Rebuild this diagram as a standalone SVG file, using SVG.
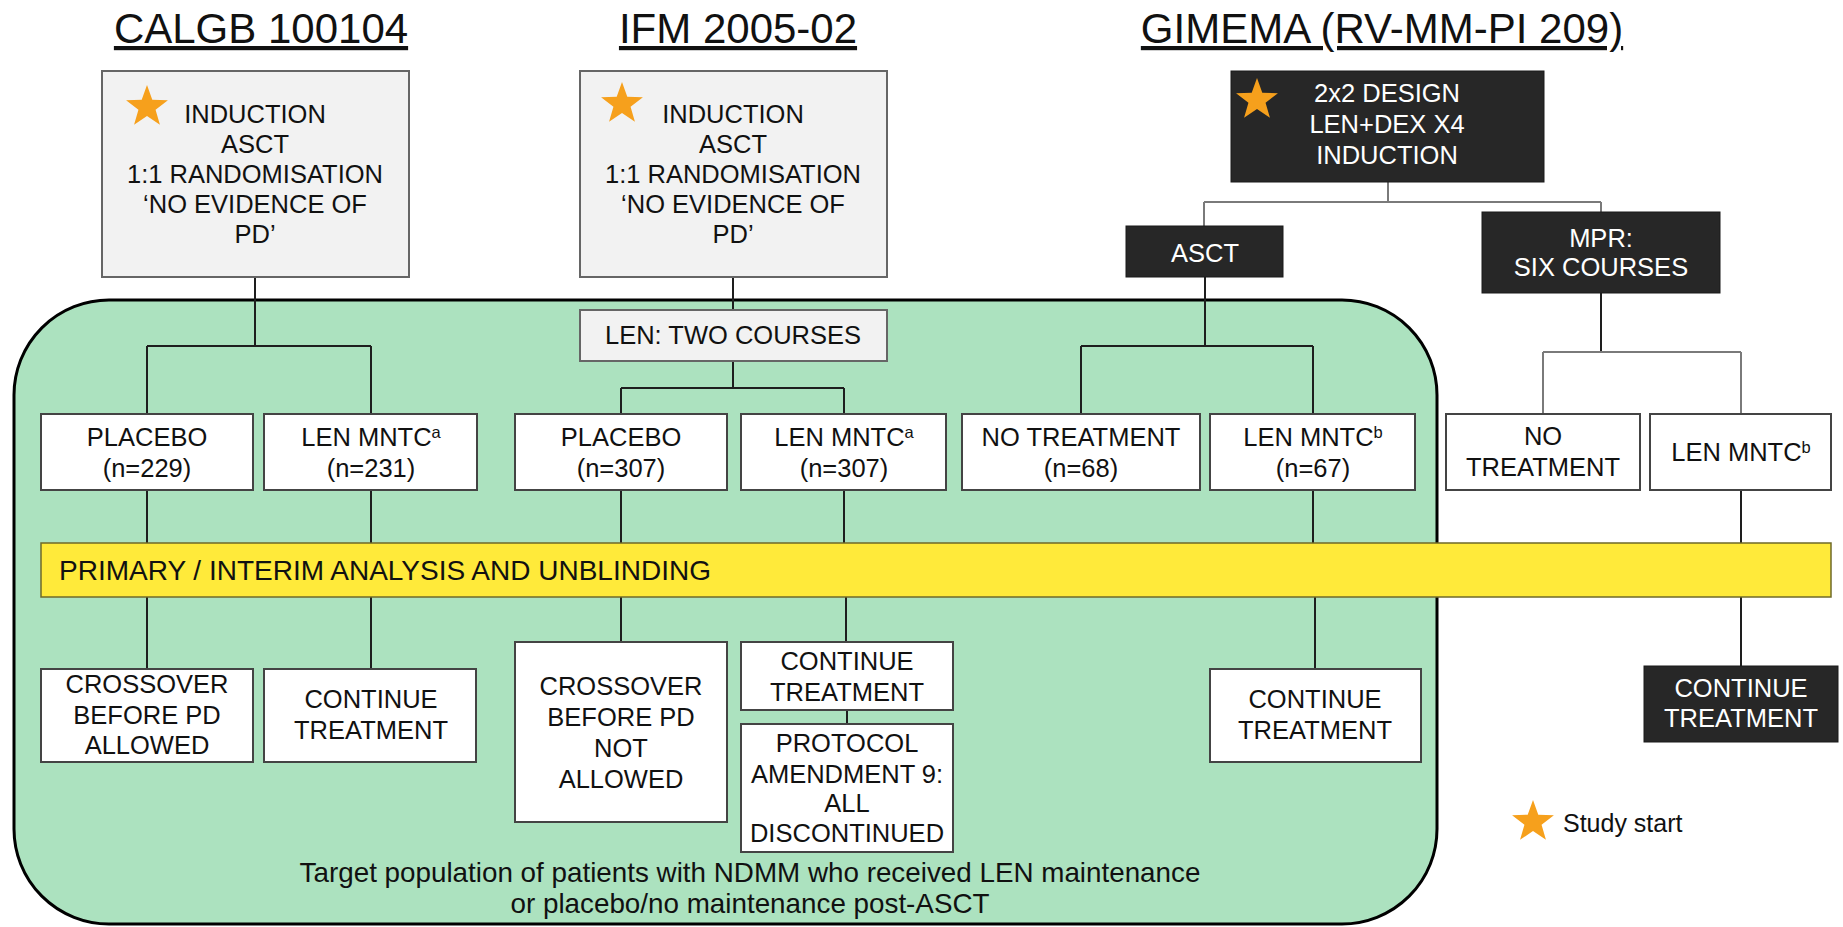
<svg xmlns="http://www.w3.org/2000/svg" xmlns:xlink="http://www.w3.org/1999/xlink" width="1843" height="927" viewBox="0 0 1843 927">
<defs>
<style>
text{font-family:"Liberation Sans",Arial,sans-serif;fill:#111}
.title{font-size:42px;text-anchor:middle;text-decoration:underline}
.bx{font-size:25.5px;text-anchor:middle}
.tp{font-size:27.8px;text-anchor:middle}
.wt{fill:#fff}
.grayb{fill:#f2f2f2;stroke:#666;stroke-width:2}
.whiteb{fill:#fff;stroke:#444;stroke-width:2}
.darkb{fill:#272727;stroke:#1a1a1a;stroke-width:1}
.conn line{stroke:#1e1e1e;stroke-width:2}
.conn line.g{stroke:#7a7a7a}
.star{fill:#F6A01C}
</style>
<path id="star" d="M0,-22 L5.29,-7.28 L20.92,-6.8 L8.56,2.78 L12.93,17.8 L0,9 L-12.93,17.8 L-8.56,2.78 L-20.92,-6.8 L-5.29,-7.28 Z"/>
</defs>
<rect width="1843" height="927" fill="#fff"/>
<g id="target-population-region">
<rect x="14" y="300" width="1423" height="624" rx="95" ry="95" fill="#ace2bf" stroke="#000" stroke-width="3"/>
</g>
<g class="conn" id="connectors">
<line x1="255" y1="277" x2="255" y2="346"/>
<line x1="147" y1="346" x2="371" y2="346"/>
<line x1="147" y1="346" x2="147" y2="414"/>
<line x1="371" y1="346" x2="371" y2="414"/>
<line x1="147" y1="490" x2="147" y2="543"/>
<line x1="371" y1="490" x2="371" y2="543"/>
<line x1="147" y1="597" x2="147" y2="669"/>
<line x1="371" y1="597" x2="371" y2="669"/>
<line x1="733" y1="277" x2="733" y2="310"/>
<line x1="733" y1="361" x2="733" y2="388"/>
<line x1="621" y1="388" x2="844" y2="388"/>
<line x1="621" y1="388" x2="621" y2="414"/>
<line x1="844" y1="388" x2="844" y2="414"/>
<line x1="621" y1="490" x2="621" y2="543"/>
<line x1="844" y1="490" x2="844" y2="543"/>
<line x1="621" y1="597" x2="621" y2="642"/>
<line x1="846" y1="597" x2="846" y2="642"/>
<line x1="847" y1="710" x2="847" y2="724"/>
<line class="g" x1="1388" y1="182" x2="1388" y2="202"/>
<line class="g" x1="1204" y1="202" x2="1601" y2="202"/>
<line class="g" x1="1204" y1="202" x2="1204" y2="226"/>
<line class="g" x1="1601" y1="202" x2="1601" y2="212"/>
<line x1="1205" y1="277" x2="1205" y2="346"/>
<line x1="1081" y1="346" x2="1313" y2="346"/>
<line x1="1081" y1="346" x2="1081" y2="414"/>
<line x1="1313" y1="346" x2="1313" y2="414"/>
<line x1="1313" y1="490" x2="1313" y2="543"/>
<line x1="1315" y1="597" x2="1315" y2="669"/>
<line x1="1601" y1="293" x2="1601" y2="352"/>
<line class="g" x1="1543" y1="352" x2="1741" y2="352"/>
<line class="g" x1="1543" y1="352" x2="1543" y2="414"/>
<line class="g" x1="1741" y1="352" x2="1741" y2="414"/>
<line x1="1741" y1="490" x2="1741" y2="543"/>
<line x1="1741" y1="597" x2="1741" y2="666"/>
</g>
<g id="title-calgb"><text class="title" x="261" y="43">CALGB 100104</text></g>
<g id="title-ifm"><text class="title" x="738" y="43">IFM 2005-02</text></g>
<g id="title-gimema"><text class="title" x="1382" y="43">GIMEMA (RV-MM-PI 209)</text></g>
<g id="calgb-induction">
<rect class="grayb" x="102" y="71" width="307" height="206"/>
<use xlink:href="#star" class="star" x="147" y="107"/>
<text class="bx" x="255" y="123">INDUCTION</text>
<text class="bx" x="255" y="153">ASCT</text>
<text class="bx" x="255" y="183">1:1 RANDOMISATION</text>
<text class="bx" x="255" y="213">‘NO EVIDENCE OF</text>
<text class="bx" x="255" y="243">PD’</text>
</g>
<g id="ifm-induction">
<rect class="grayb" x="580" y="71" width="307" height="206"/>
<use xlink:href="#star" class="star" x="622" y="104"/>
<text class="bx" x="733" y="123">INDUCTION</text>
<text class="bx" x="733" y="153">ASCT</text>
<text class="bx" x="733" y="183">1:1 RANDOMISATION</text>
<text class="bx" x="733" y="213">‘NO EVIDENCE OF</text>
<text class="bx" x="733" y="243">PD’</text>
</g>
<g id="gimema-induction">
<rect class="darkb" x="1231" y="71" width="313" height="111"/>
<use xlink:href="#star" class="star" x="1257" y="100"/>
<text class="bx wt" x="1387" y="102">2x2 DESIGN</text>
<text class="bx wt" x="1387" y="133">LEN+DEX X4</text>
<text class="bx wt" x="1387" y="164">INDUCTION</text>
</g>
<g id="gimema-asct">
<rect class="darkb" x="1126" y="226" width="157" height="51"/>
<text class="bx wt" x="1205" y="262">ASCT</text>
</g>
<g id="gimema-mpr">
<rect class="darkb" x="1482" y="212" width="238" height="81"/>
<text class="bx wt" x="1601" y="247">MPR:</text>
<text class="bx wt" x="1601" y="276">SIX COURSES</text>
</g>
<g id="ifm-len-two-courses">
<rect class="grayb" x="580" y="310" width="307" height="51"/>
<text class="bx" x="733" y="344">LEN: TWO COURSES</text>
</g>
<g id="calgb-placebo">
<rect class="whiteb" x="41" y="414" width="212" height="76"/>
<text class="bx" x="147" y="446">PLACEBO</text>
<text class="bx" x="147" y="477">(n=229)</text>
</g>
<g id="calgb-len">
<rect class="whiteb" x="264" y="414" width="213" height="76"/>
<text class="bx" x="371" y="446">LEN MNTC<tspan font-size="16.5" baseline-shift="8">a</tspan></text>
<text class="bx" x="371" y="477">(n=231)</text>
</g>
<g id="ifm-placebo">
<rect class="whiteb" x="515" y="414" width="212" height="76"/>
<text class="bx" x="621" y="446">PLACEBO</text>
<text class="bx" x="621" y="477">(n=307)</text>
</g>
<g id="ifm-len">
<rect class="whiteb" x="741" y="414" width="205" height="76"/>
<text class="bx" x="844" y="446">LEN MNTC<tspan font-size="16.5" baseline-shift="8">a</tspan></text>
<text class="bx" x="844" y="477">(n=307)</text>
</g>
<g id="gimema-asct-no-treatment">
<rect class="whiteb" x="962" y="414" width="238" height="76"/>
<text class="bx" x="1081" y="446">NO TREATMENT</text>
<text class="bx" x="1081" y="477">(n=68)</text>
</g>
<g id="gimema-asct-len">
<rect class="whiteb" x="1210" y="414" width="205" height="76"/>
<text class="bx" x="1313" y="446">LEN MNTC<tspan font-size="16.5" baseline-shift="8">b</tspan></text>
<text class="bx" x="1313" y="477">(n=67)</text>
</g>
<g id="gimema-mpr-no-treatment">
<rect class="whiteb" x="1446" y="414" width="194" height="76"/>
<text class="bx" x="1543" y="445">NO</text>
<text class="bx" x="1543" y="476">TREATMENT</text>
</g>
<g id="gimema-mpr-len">
<rect class="whiteb" x="1650" y="414" width="181" height="76"/>
<text class="bx" x="1741" y="461">LEN MNTC<tspan font-size="16.5" baseline-shift="8">b</tspan></text>
</g>
<g id="analysis-bar">
<rect x="41" y="543" width="1790" height="54" fill="#ffea3a" stroke="#6f6a2a" stroke-width="1.5"/>
<text x="59" y="580" font-size="28px">PRIMARY / INTERIM ANALYSIS AND UNBLINDING</text>
</g>
<g id="calgb-crossover">
<rect class="whiteb" x="41" y="669" width="212" height="93"/>
<text class="bx" x="147" y="693">CROSSOVER</text>
<text class="bx" x="147" y="724">BEFORE PD</text>
<text class="bx" x="147" y="754">ALLOWED</text>
</g>
<g id="calgb-continue">
<rect class="whiteb" x="264" y="669" width="212" height="93"/>
<text class="bx" x="371" y="708">CONTINUE</text>
<text class="bx" x="371" y="739">TREATMENT</text>
</g>
<g id="ifm-crossover">
<rect class="whiteb" x="515" y="642" width="212" height="180"/>
<text class="bx" x="621" y="695">CROSSOVER</text>
<text class="bx" x="621" y="726">BEFORE PD</text>
<text class="bx" x="621" y="757">NOT</text>
<text class="bx" x="621" y="788">ALLOWED</text>
</g>
<g id="ifm-continue">
<rect class="whiteb" x="741" y="642" width="212" height="68"/>
<text class="bx" x="847" y="670">CONTINUE</text>
<text class="bx" x="847" y="701">TREATMENT</text>
</g>
<g id="ifm-protocol">
<rect class="whiteb" x="741" y="724" width="212" height="128"/>
<text class="bx" x="847" y="752">PROTOCOL</text>
<text class="bx" x="847" y="783">AMENDMENT 9:</text>
<text class="bx" x="847" y="812">ALL</text>
<text class="bx" x="847" y="842">DISCONTINUED</text>
</g>
<g id="gimema-asct-continue">
<rect class="whiteb" x="1210" y="669" width="211" height="93"/>
<text class="bx" x="1315" y="708">CONTINUE</text>
<text class="bx" x="1315" y="739">TREATMENT</text>
</g>
<g id="gimema-mpr-continue">
<rect class="darkb" x="1644" y="666" width="194" height="76"/>
<text class="bx wt" x="1741" y="697">CONTINUE</text>
<text class="bx wt" x="1741" y="727">TREATMENT</text>
</g>
<g id="target-population-label">
<text class="tp" x="750" y="882">Target population of patients with NDMM who received LEN maintenance</text>
<text class="tp" x="750" y="913">or placebo/no maintenance post-ASCT</text>
</g>
<g id="legend">
<use xlink:href="#star" class="star" x="1533" y="822"/>
<text x="1563" y="832" font-size="25px">Study start</text>
</g>
</svg>
